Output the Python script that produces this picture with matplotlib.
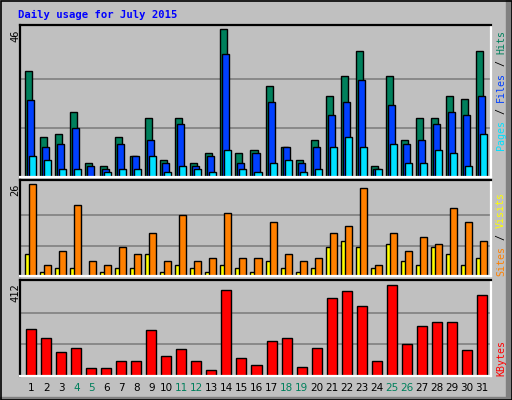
import matplotlib
matplotlib.use("Agg")
import matplotlib.pyplot as plt
from matplotlib.patches import Rectangle
import numpy as np

days = list(range(1, 32))
weekend_days = [4, 5, 11, 12, 18, 19, 25, 26]
hits = [33, 12.3, 13.2, 20.1, 4.2, 3.2, 12.3, 6.5, 18.2, 5.1, 18.2, 4.2, 7.3, 46, 7.3, 8.2,
        28.2, 9.2, 5.1, 11.4, 25.1, 31.4, 39.2, 3.2, 31.4, 11.4, 18.2, 18.2, 25.1, 24.2, 39.2]
files = [24, 9.2, 10.1, 15.1, 3.2, 2.3, 10.1, 6.5, 11.4, 4.2, 16.4, 3.2, 6.5, 38.3, 4.2, 7.3,
         23.2, 9.2, 4.2, 9.2, 19.2, 23.2, 30.1, 2.3, 22.3, 10.1, 11.4, 16.4, 20.1, 19.2, 25.1]
pages = [6.5, 5.2, 2.4, 2.4, 0, 1.4, 2.4, 2.4, 6.5, 1.4, 3.2, 2.4, 1.4, 8.2, 2.4, 1.4,
         4.2, 5.1, 1.4, 2.4, 9.2, 12.3, 9.2, 2.3, 10.1, 4.2, 4.2, 8.2, 7.3, 3.2, 13.2]
visits = [6.2, 1.1, 2.3, 2.3, 0, 1.1, 2.3, 2.3, 6.2, 1.1, 3.1, 2.3, 1.1, 3.1, 2.3, 1.1,
          4.2, 2.3, 1.1, 2.3, 8.2, 10.1, 8.2, 2.3, 9, 4.2, 3.1, 8.2, 6.2, 3.1, 5.1]
sites = [26, 3.1, 7, 20, 4.2, 3.1, 8.2, 6.2, 12.1, 4.2, 17.2, 4.2, 5.1, 18, 5.1, 5.1,
         15.2, 6.2, 4.2, 5.1, 12.1, 14.1, 25, 3.1, 12.1, 7, 11, 9, 19.2, 15.2, 10.1]
kbytes = [204, 166, 105, 122, 32, 32, 66, 66, 200, 84, 118, 62, 23, 373, 79, 45,
          153, 166, 36, 122, 338, 369, 304, 62, 395, 140, 217, 235, 235, 110, 351]
max_labels = ["46", "26", "412"]
max_vals = [46, 26, 412]

BG = "#C0C0C0"
C_HITS, C_FILES, C_PAGES = "#00805C", "#0040FF", "#00E0FF"
C_VISITS, C_SITES, C_KB = "#FFFF00", "#FF8000", "#FF0000"

W, H = 512, 400
fig = plt.figure(figsize=(W / 100, H / 100), dpi=100, facecolor=BG)
fig.patches.append(Rectangle((505.5 / W, 0), 6.5 / W, 1, transform=fig.transFigure, color="#808080", zorder=0))
fig.patches.append(Rectangle((0, 0), 1, 3.5 / H, transform=fig.transFigure, color="#808080", zorder=0))
fig.patches.append(Rectangle((0.5 / W, 0.5 / H), 1 - 1 / W, 1 - 1 / H, transform=fig.transFigure,
                             fill=False, ec="black", lw=1.2, zorder=1))

def mkax(top_px, base_px):
    return fig.add_axes([20 / W, 1 - base_px / H, 470.7 / W, (base_px - top_px) / H])

x = np.array(days, dtype=float)
xl = (1 - 11.3 / 15, 31 + 9 / 15)

def style(ax, vmax, extra):
    ax.set_facecolor(BG)
    ax.set_xlim(*xl)
    ax.set_ylim(0, vmax * extra)
    for v in (vmax / 3, 2 * vmax / 3):
        ax.axhline(v, color="#808080", lw=1.2, zorder=0)
    ax.set_xticks([]); ax.set_yticks([])
    for s in ("top", "left"):
        ax.spines[s].set_color("black"); ax.spines[s].set_linewidth(1.6)
    for s in ("bottom", "right"):
        ax.spines[s].set_color("white"); ax.spines[s].set_linewidth(1.6)

bw = 7 / 15
kw = dict(align="edge", edgecolor="black", linewidth=1.0, zorder=2)

ax1 = mkax(24.7, 176.7)
style(ax1, 46, 1.032)
ax1.bar(x - 6 / 15, hits, bw, color=C_HITS, **kw)
ax1.bar(x - 4 / 15, files, bw, color=C_FILES, **kw)
ax1.bar(x - 2 / 15, [p if p > 0 else np.nan for p in pages], bw, color=C_PAGES, **kw)

ax2 = mkax(180, 276.3)
style(ax2, 26, 1.045)
ax2.bar(x - 6 / 15, [v if v > 0 else np.nan for v in visits], bw, color=C_VISITS, **kw)
ax2.bar(x - 2 / 15, sites, bw, color=C_SITES, **kw)

ax3 = mkax(280, 375.7)
style(ax3, 412, 1.01)
ax3.bar(x - 5 / 15, kbytes, 10 / 15, color=C_KB, **kw)

mono = "DejaVu Sans Mono"
fig.text(18 / W, 1 - 15 / H, "Daily usage for July 2015", color="#0000FF", family=mono,
         fontsize=7.6, fontweight="bold", va="center", ha="left")
for lab, top in zip(max_labels, [29, 184, 283]):
    fig.text(15 / W, 1 - top / H, lab, rotation=90, family=mono, fontsize=7.5,
             va="top", ha="center", color="black")

renderer = fig.canvas.get_renderer()

def vtext(parts, y_bottom):
    y = y_bottom
    for s, c in parts:
        t = fig.text(501 / W, 1 - y / H, s, rotation=90, family=mono, fontsize=7.2,
                     color=c, va="bottom", ha="center")
        ext = t.get_window_extent(renderer)
        y -= ext.height

vtext([("Pages", C_PAGES), (" / ", "black"), ("Files", C_FILES), (" / ", "black"), ("Hits", C_HITS)], 150)
vtext([("Sites", C_SITES), (" / ", "black"), ("Visits", C_VISITS)], 276)
vtext([("KBytes", C_KB)], 376)

for d in days:
    col = C_HITS if d in weekend_days else "black"
    px = 31.3 + (d - 1) * 15.01
    fig.text(px / W, 1 - 388 / H, str(d), color=col, fontsize=7.5, ha="center", va="center")

fig.savefig("out.png", dpi=100, facecolor=BG)
